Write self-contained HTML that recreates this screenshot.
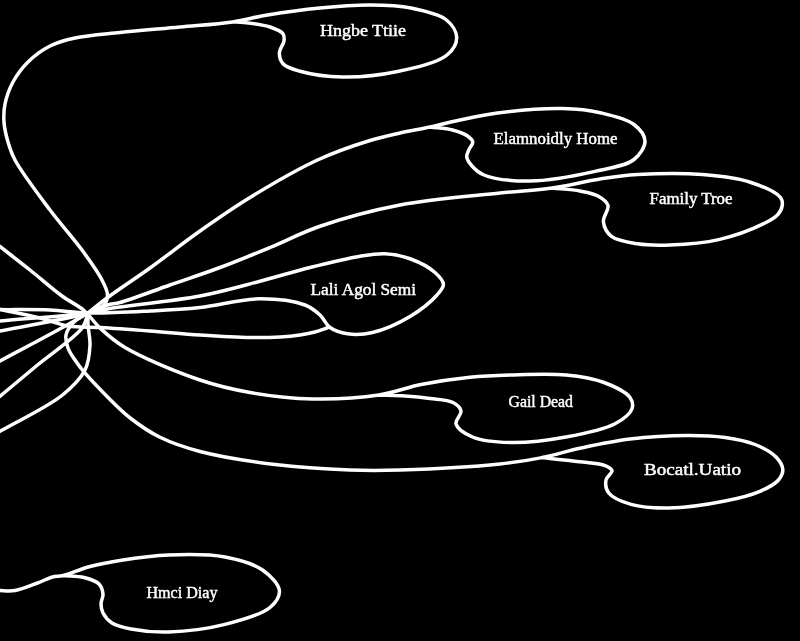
<!DOCTYPE html>
<html><head><meta charset="utf-8"><style>
html,body{margin:0;padding:0;background:#000;width:800px;height:641px;overflow:hidden}
svg{display:block;filter:grayscale(1)}
</style></head><body>
<svg width="800" height="641" viewBox="0 0 800 641">
<rect width="800" height="641" fill="#000"/>
<g fill="none" stroke="#fff" stroke-width="3.5" stroke-linecap="round" stroke-linejoin="round">
<path d="M232.50,21.90 C236.25,22.10 239.24,21.99 243.75,22.50 C250.69,23.28 262.92,24.62 270.00,27.00 C275.25,28.77 280.93,30.82 283.00,33.75 C284.46,35.82 284.32,38.35 284.00,41.00 C283.58,44.44 279.54,48.66 279.40,52.50 C279.27,56.25 280.33,60.78 283.00,63.75 C286.35,67.48 292.88,69.24 300.00,71.25 C310.82,74.30 327.40,76.74 342.50,77.00 C359.64,77.30 379.85,75.27 397.50,71.50 C414.65,67.83 437.47,62.92 447.00,55.00 C452.90,50.10 456.76,43.32 456.70,37.50 C456.64,31.65 452.15,24.61 446.50,20.00 C438.82,13.73 423.43,10.51 411.00,8.00 C397.98,5.37 384.35,5.11 370.00,5.00 C354.16,4.88 336.84,6.29 320.00,7.90 C302.68,9.55 283.19,12.29 267.50,14.90 C254.62,17.04 245.40,19.99 232.50,21.90 C216.82,24.22 198.09,25.29 180.00,27.00 C160.67,28.82 138.55,30.52 120.00,32.50 C103.91,34.22 87.70,35.22 75.00,38.00 C65.34,40.12 57.77,42.06 50.00,46.00 C42.09,50.01 34.25,55.84 28.00,62.00 C22.01,67.91 16.86,74.87 13.00,82.00 C9.27,88.90 6.45,96.93 5.00,104.00 C3.73,110.20 3.56,115.87 4.00,122.00 C4.46,128.52 6.13,135.59 8.00,142.00 C9.82,148.24 11.14,152.78 15.00,160.00 C21.85,172.83 38.35,194.44 50.00,210.00 C60.68,224.26 72.81,237.44 82.00,250.00 C89.71,260.54 97.68,271.49 102.00,280.00 C104.87,285.66 107.47,290.50 107.50,295.00 C107.53,298.66 106.44,302.22 104.00,305.00 C100.82,308.61 93.16,310.01 88.00,313.00 C82.82,316.00 76.75,319.02 73.00,323.00 C69.71,326.50 66.80,330.77 66.00,335.00 C65.22,339.12 66.54,343.88 68.00,348.00 C69.50,352.23 72.44,356.14 75.00,360.00 C77.57,363.87 79.75,366.84 83.40,371.20 C89.11,378.01 98.86,388.28 106.80,396.20 C114.47,403.85 121.61,411.30 130.20,418.00 C139.25,425.06 148.99,431.87 160.00,437.30 C172.04,443.24 184.39,447.41 200.00,451.50 C220.91,456.98 249.92,461.41 275.00,464.50 C299.92,467.57 327.51,469.18 350.00,470.00 C368.34,470.67 380.48,470.58 400.00,470.00 C427.62,469.17 473.83,466.77 500.00,464.00 C517.04,462.19 528.32,460.32 542.00,457.60 C555.30,454.95 567.21,450.96 581.00,448.00 C596.36,444.70 612.95,441.08 630.00,439.00 C648.34,436.77 670.37,435.56 687.50,435.50 C701.33,435.45 713.27,435.83 725.00,437.50 C735.63,439.01 746.13,440.93 755.00,444.50 C762.90,447.68 771.29,452.10 776.00,457.00 C779.60,460.74 782.58,465.46 782.80,469.50 C783.00,473.10 781.20,476.83 778.50,480.00 C774.76,484.39 767.41,488.09 760.00,491.30 C750.41,495.46 738.15,498.37 725.00,501.00 C708.57,504.28 685.65,507.76 668.75,508.00 C654.93,508.20 641.68,507.52 631.00,504.40 C622.33,501.87 612.60,498.04 608.75,493.00 C605.94,489.33 605.30,483.86 606.00,480.00 C606.64,476.47 612.44,473.06 612.00,470.60 C611.63,468.52 608.86,467.13 605.70,465.80 C599.24,463.08 583.77,462.38 573.00,461.00 C562.54,459.66 552.33,458.73 542.00,457.60"/>
<path d="M88.00,313.00 C94.33,308.00 99.29,303.73 107.00,298.00 C118.35,289.57 135.20,278.63 150.00,268.00 C166.12,256.42 183.19,242.84 200.00,231.00 C216.53,219.35 231.83,208.61 250.00,197.50 C270.58,184.92 296.05,169.87 317.50,160.00 C335.76,151.59 354.82,145.20 370.00,140.50 C381.28,137.01 389.97,135.25 400.00,133.00 C409.97,130.76 420.02,129.16 430.00,127.00 C440.02,124.83 449.42,122.22 460.00,120.00 C471.78,117.53 483.23,114.81 497.50,113.00 C516.15,110.64 543.60,108.18 562.50,108.60 C577.17,108.93 589.24,110.18 601.50,113.00 C612.99,115.64 626.58,118.72 634.00,124.50 C639.63,128.88 644.85,135.29 645.00,141.00 C645.15,146.94 640.10,154.72 634.00,159.50 C625.61,166.09 609.79,168.07 595.00,171.40 C576.22,175.63 549.81,180.83 530.00,181.00 C513.36,181.14 494.04,179.09 484.00,175.00 C478.29,172.68 474.96,169.33 472.00,166.00 C469.53,163.23 467.10,159.94 466.75,157.00 C466.45,154.45 468.02,151.96 469.00,149.50 C470.01,146.96 473.04,144.27 472.75,142.00 C472.47,139.78 469.98,137.75 467.50,136.00 C463.97,133.50 458.11,131.47 452.50,130.00 C445.85,128.26 437.50,128.00 430.00,127.00"/>
<path d="M0.00,331.00 C29.33,325.00 69.39,318.67 88.00,313.00 C97.02,310.26 101.64,306.77 107.50,305.00 C112.06,303.62 114.51,304.00 120.00,302.50 C131.18,299.44 153.33,290.83 170.00,285.00 C186.67,279.17 203.40,273.72 220.00,267.50 C236.74,261.23 253.37,254.36 270.00,247.50 C286.70,240.61 301.12,232.73 320.00,226.25 C343.30,218.25 371.64,210.44 400.00,205.00 C431.28,199.00 472.05,196.02 500.00,193.00 C520.13,190.83 535.07,190.40 552.00,188.00 C568.37,185.68 584.95,181.29 600.00,179.00 C613.23,176.99 623.26,175.43 637.50,174.60 C656.18,173.51 682.48,172.98 702.50,174.60 C719.91,176.01 737.13,177.97 751.00,182.50 C762.38,186.22 776.46,192.38 780.50,197.50 C782.45,199.97 782.56,202.41 782.30,205.00 C782.00,207.98 780.36,211.54 778.00,214.30 C775.08,217.71 770.91,220.02 765.00,223.00 C754.52,228.28 734.55,235.93 718.70,239.60 C702.88,243.26 684.62,244.46 670.00,245.00 C658.09,245.44 647.64,245.41 637.50,243.80 C628.26,242.34 617.24,240.97 611.50,236.40 C606.98,232.80 603.99,226.85 603.40,221.70 C602.81,216.55 609.20,209.90 608.00,205.50 C606.91,201.52 602.18,198.37 598.00,196.00 C593.14,193.25 586.72,192.28 580.00,191.00 C571.75,189.42 561.33,189.00 552.00,188.00"/>
<path d="M0.00,321.00 C29.33,318.33 69.27,315.76 88.00,313.00 C96.89,311.69 98.56,310.54 107.50,309.00 C126.87,305.66 172.61,301.28 200.00,296.00 C222.28,291.71 240.94,286.21 260.00,281.25 C277.46,276.70 293.28,271.68 310.00,267.50 C326.62,263.35 346.14,258.49 360.00,256.25 C369.71,254.68 376.70,253.34 385.00,253.75 C393.36,254.16 401.89,255.79 410.00,258.75 C418.58,261.88 429.24,267.35 435.00,272.50 C439.11,276.18 443.26,280.50 443.40,284.40 C443.53,287.99 440.35,291.18 437.00,295.00 C431.40,301.37 420.20,310.42 410.00,316.50 C398.92,323.11 383.95,329.86 372.50,332.50 C363.52,334.57 354.99,334.86 347.50,333.75 C341.04,332.80 334.67,330.83 330.00,327.50 C325.67,324.41 324.00,318.67 320.00,315.00 C315.75,311.11 311.72,307.55 305.00,305.00 C294.33,300.95 276.07,298.70 260.00,298.75 C241.43,298.81 219.13,305.44 200.00,307.50 C182.61,309.37 167.57,310.10 150.00,311.00 C130.45,312.00 106.14,313.42 88.00,313.00 C73.78,312.67 63.55,310.59 50.00,310.00 C34.49,309.33 16.67,309.73 0.00,309.60"/>
<path d="M328.00,327.50 C323.67,329.00 319.53,330.77 315.00,332.00 C310.22,333.30 305.38,334.19 300.00,335.00 C293.83,335.92 287.35,336.57 280.00,337.00 C271.02,337.52 261.27,337.69 250.00,337.50 C235.45,337.26 216.66,336.08 200.00,335.00 C183.33,333.92 166.67,332.25 150.00,331.00 C133.34,329.75 114.82,328.37 100.00,327.50 C88.15,326.81 78.22,327.68 68.00,326.00 C58.26,324.40 50.21,320.55 40.00,318.00 C27.90,314.97 13.33,312.27 0.00,309.40"/>
<path d="M-2.00,245.00 C8.67,253.33 19.37,261.53 30.00,270.00 C40.71,278.53 52.16,288.79 62.00,296.00 C69.86,301.76 77.54,304.99 84.00,310.50 C90.12,315.73 93.80,322.27 100.00,328.00 C107.17,334.63 113.89,340.91 125.00,347.50 C142.84,358.09 177.24,372.28 200.00,380.00 C218.08,386.13 232.29,389.38 250.00,392.50 C269.56,395.94 291.32,398.54 312.50,399.00 C334.30,399.47 359.49,398.00 379.00,395.00 C394.73,392.58 406.39,387.41 421.00,384.50 C436.63,381.39 454.46,378.78 470.00,377.20 C483.97,375.78 495.54,375.40 510.00,375.00 C527.09,374.53 549.21,373.36 566.00,375.00 C579.96,376.36 592.83,378.31 604.00,382.50 C613.83,386.19 626.02,391.83 630.00,397.50 C632.45,401.00 633.28,405.08 632.00,408.75 C630.20,413.92 622.77,419.57 615.00,423.75 C603.37,430.00 583.01,433.89 566.00,437.00 C548.09,440.28 526.78,442.90 510.00,442.50 C496.23,442.17 482.07,441.12 472.50,437.00 C465.38,433.93 457.34,428.88 456.00,424.00 C454.91,420.03 461.72,414.69 461.00,411.00 C460.34,407.62 456.81,404.55 453.00,402.50 C447.62,399.60 437.85,399.57 430.00,398.50 C421.86,397.39 413.42,396.58 405.00,396.00 C396.43,395.41 387.67,395.33 379.00,395.00"/>
<path d="M-2.00,590.50 C3.67,590.50 9.02,591.47 15.00,590.50 C22.06,589.35 30.79,585.46 37.50,583.00 C43.04,580.97 47.88,578.24 52.50,577.00 C56.25,576.00 58.74,576.50 63.00,575.50 C69.97,573.85 80.68,568.97 90.00,566.50 C99.66,563.93 108.75,562.26 120.00,560.50 C134.25,558.28 151.89,555.65 168.75,555.00 C186.80,554.31 208.35,553.89 225.00,557.00 C238.98,559.61 253.09,563.44 262.50,570.00 C270.21,575.37 278.79,583.87 279.40,590.60 C279.92,596.33 275.61,602.67 270.00,607.50 C261.16,615.12 241.08,620.35 225.00,624.40 C207.53,628.80 185.66,631.53 168.75,632.00 C154.94,632.38 141.35,631.02 131.00,629.00 C123.49,627.54 116.86,626.13 112.00,623.00 C108.01,620.43 104.80,616.49 103.00,613.00 C101.51,610.11 101.03,607.08 101.00,604.00 C100.97,600.76 103.30,597.29 103.00,594.00 C102.69,590.62 101.55,586.63 99.00,584.00 C95.85,580.76 89.54,578.93 84.00,577.50 C77.70,575.88 70.00,576.17 63.00,575.50"/>
<path d="M-2.00,398.00 C11.17,387.00 23.90,376.35 37.50,365.00 C52.01,352.89 75.05,337.95 82.50,327.50 C86.33,322.12 86.17,317.83 88.00,313.00"/>
<path d="M-2.00,432.50 C19.50,420.00 47.18,407.45 62.50,395.00 C72.79,386.64 80.49,379.00 85.00,370.00 C88.93,362.17 89.61,352.90 90.00,345.00 C90.34,337.99 88.29,330.83 88.00,325.00 C87.78,320.50 88.00,317.00 88.00,313.00"/>
<path d="M-2.00,362.00 C8.67,356.33 19.30,350.72 30.00,345.00 C40.80,339.22 52.35,333.12 62.50,327.50 C71.55,322.49 79.50,317.83 88.00,313.00"/>
</g>
<g fill="#fff" font-family="'Liberation Serif', serif" font-size="16" stroke="#fff" stroke-width="0.45">
<text x="320.0" y="36.0" textLength="86.0" lengthAdjust="spacingAndGlyphs">Hngbe Ttiie</text>
<text x="493.5" y="143.7" textLength="124.0" lengthAdjust="spacingAndGlyphs">Elamnoidly Home</text>
<text x="649.5" y="204.0" textLength="83.0" lengthAdjust="spacingAndGlyphs">Family Troe</text>
<text x="310.5" y="294.7" textLength="105.5" lengthAdjust="spacingAndGlyphs">Lali Agol Semi</text>
<text x="508.5" y="407.0" textLength="64.5" lengthAdjust="spacingAndGlyphs">Gail Dead</text>
<text x="644.0" y="475.2" textLength="97.0" lengthAdjust="spacingAndGlyphs">Bocatl.Uatio</text>
<text x="146.5" y="598.0" textLength="71.0" lengthAdjust="spacingAndGlyphs">Hmci Diay</text>
</g>
</svg>
</body></html>
